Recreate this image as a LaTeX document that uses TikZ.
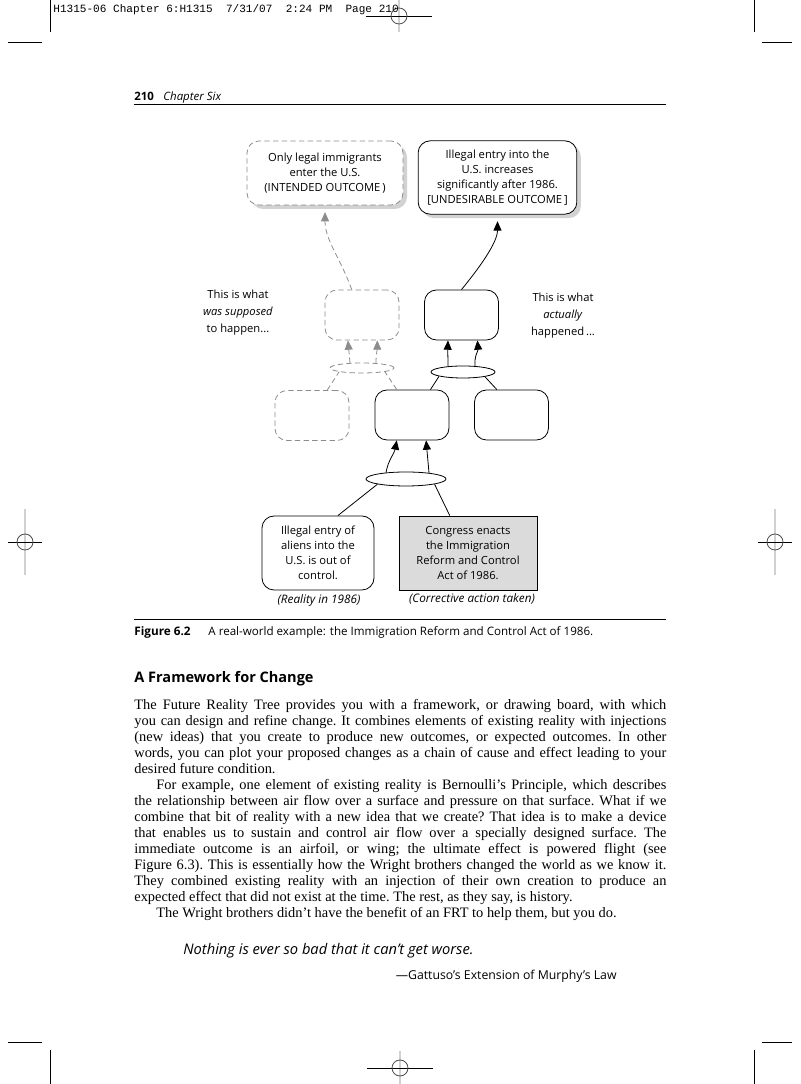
\documentclass[tikz,border=0pt]{standalone}
\usepackage{fontspec}
\setmainfont{Liberation Serif}
\setsansfont{Open Sans}
\setmonofont{Liberation Mono}
\usetikzlibrary{shapes.geometric,arrows.meta,shadows,calc}

\definecolor{ghostgray}{gray}{0.55}
\definecolor{actionfill}{gray}{0.86}
\definecolor{regtint}{gray}{0.82}
\newcommand{\figfont}{\sffamily\fontsize{8.4}{11.2}\selectfont}
\newcommand{\bodyfont}{\rmfamily\fontsize{10.8}{12}\selectfont\frenchspacing}

\tikzset{
  fact/.style={draw, fill=white, rounded corners=9pt, align=center, font=\figfont, inner sep=2pt},
  ghost/.style={fact, draw=ghostgray, dash pattern=on 4pt off 2.5pt},
  shade/.style={drop shadow={shadow xshift=3pt, shadow yshift=-3pt, fill=black!35}},
  small/.style={minimum width=55.5pt, minimum height=37.5pt},
  andring/.style={draw, ellipse, fill=white, inner sep=0pt},
  ghostlink/.style={draw=ghostgray, dash pattern=on 4pt off 2.5pt},
  cause/.style={-{Triangle[length=7pt,width=6pt]}},
  note/.style={align=center, font=\sffamily\fontsize{8.4}{12.7}\selectfont},
  tag/.style={anchor=base, inner sep=0pt, font=\sffamily\itshape\fontsize{8.8}{10}\selectfont},
}

\begin{document}
\begin{tikzpicture}[x=0.75pt, y=0.75pt, line width=0.6pt]
\useasboundingbox (0,0) rectangle (800,1084);

% crop marks
\draw (50,1084) -- (50,1052) (8,1042) -- (42,1042)
      (754,1084) -- (754,1052) (762,1042) -- (792,1042)
      (50,0) -- (50,34) (8,42) -- (42,42)
      (754,0) -- (754,34) (762,42) -- (792,42);
% registration marks
\foreach \cx/\cy/\hw/\vh in {399/1068/33/16, 400/16/33/17, 25/542/17/33, 775/542/17/33} {
  \draw[regtint, line width=1.2pt] (\cx,\cy-\vh) -- (\cx,\cy+\vh);
  \draw (\cx-\hw,\cy) -- (\cx+\hw,\cy);
  \draw[black!70] (\cx,\cy) circle [radius=6pt];
}

% slug and running head
\node[anchor=base west, inner sep=0pt, font=\ttfamily\fontsize{8.3}{10}\selectfont] (slug) at (53,1071)
  {H1315-06 Chapter 6:H1315\ \ 7/31/07\ \ 2:24 PM\ \ Page 210};
\node[anchor=base west, inner sep=0pt, font=\sffamily\bfseries\fontsize{8.6}{10}\selectfont] (folio) at (134,983) {210};
\node[anchor=base west, inner sep=0pt, font=\sffamily\itshape\fontsize{8.6}{10}\selectfont] (runhead) at (163,983) {Chapter Six};
\draw (134,980) -- (666,980);

% outcomes
\node[ghost, shade, minimum width=117pt, minimum height=48pt] (intended) at (325,911)
  {Only legal immigrants\\enter the U.S.\\(INTENDED OUTCOME\,)};
\node[fact, shade, minimum width=119pt, minimum height=55pt] (undesired) at (497.5,906.5)
  {Illegal entry into the\\U.S. increases\\significantly after 1986.\\{[UNDESIRABLE OUTCOME\,]}};

% middle levels
\node[ghost, small] (hopeA) at (362,769) {};
\node[fact, small] (realA) at (461.5,769) {};
\node[ghost, small] (hopeB) at (312,668.5) {};
\node[fact, small] (realB) at (412,669) {};
\node[fact, small] (realC) at (511.5,669) {};

\node[andring, ghostlink, minimum width=48pt, minimum height=7.5pt] (ghostand) at (362,716) {};
\node[andring, minimum width=48pt, minimum height=9pt] (topand) at (463,712) {};
\node[andring, minimum width=60pt, minimum height=10.5pt] (lowand) at (406,605) {};

% roots
\node[fact, minimum width=84pt, minimum height=55.5pt] (reality) at (318,531)
  {Illegal entry of\\aliens into the\\U.S. is out of\\control.};
\node[draw, fill=actionfill, align=center, font=\figfont, minimum width=103.5pt, minimum height=55.5pt] (action) at (468,531)
  {Congress enacts\\the Immigration\\Reform and Control\\Act of 1986.};
\node[tag] (realitytag) at (319,480) {(Reality in 1986)};
\node[tag] (actiontag) at (472,481) {(Corrective action taken)};

\node[note] (supposed) at (238,771) {This is what\\\textit{was supposed}\\to happen...};
\node[note] (actually) at (563,768) {This is what\\\textit{actually}\\happened\,...};

% what happened
\draw (reality.62) -- (lowand.south west);
\draw (action.116) -- (lowand.south east);
\draw[cause] ($(lowand.north)+(-20,-1)$) to[out=80, in=-100] (realB.239);
\draw[cause] ($(lowand.north)+(23,-1.3)$) to[out=95, in=-85] (realB.299);
\draw (realB.54) -- ($(topand.south)+(-24,2)$);
\draw (realC.120) -- ($(topand.south)+(22,1.6)$);
\draw[cause] ($(topand.north)+(-15,-0.7)$) to[out=90, in=-92] (realA.242);
\draw[cause] ($(topand.north)+(12,-0.5)$) to[out=95, in=-85] (realA.302);
\draw[cause, shorten >=5pt] (realA.north) .. controls +(18,22) and +(0,-28) .. (undesired.south);

% what was supposed to happen
\draw[ghostlink] (hopeB.59) -- (ghostand.south west);
\draw[ghostlink] (realB.121) -- (ghostand.south east);
\draw[ghostlink, cause] ($(ghostand.north)+(-12,-0.4)$) to[out=95, in=-85] (hopeA.241);
\draw[ghostlink, cause] ($(ghostand.north)+(14,-0.5)$) to[out=90, in=-90] (hopeA.301);
\draw[ghostlink, cause, shorten >=5pt] (hopeA.112) to[out=110, in=-90] (intended.south);

% caption
\draw (134,465) -- (666,465);
\node[anchor=base west, inner sep=0pt, font=\sffamily\bfseries\fontsize{8.8}{10}\selectfont] (figno) at (134,448) {Figure 6.2};
\node[anchor=base west, inner sep=0pt, font=\sffamily\fontsize{8.7}{10}\selectfont] (caption) at (208,448)
  {A real-world example: the Immigration Reform and Control Act of 1986.};

% text below
\node[anchor=base west, inner sep=0pt, font=\sffamily\bfseries\fontsize{10.9}{12}\selectfont] (heading) at (134,401) {A Framework for Change};
\node[anchor=north west, inner sep=0pt, text width=399pt, align=justify, font=\bodyfont] (body) at (134,386.2)
  {\strut The Future Reality Tree provides you with a framework, or drawing board, with which\linebreak
  you can design and refine change. It combines elements of existing reality with injections\linebreak
  (new ideas) that you create to produce new outcomes, or expected outcomes. In other\linebreak
  words, you can plot your proposed changes as a chain of cause and effect leading to your\linebreak
  desired future condition.\par
  \hspace*{16.5pt}For example, one element of existing reality is Bernoulli’s Principle, which describes\linebreak
  the relationship between air flow over a surface and pressure on that surface. What if we\linebreak
  combine that bit of reality with a new idea that we create? That idea is to make a device\linebreak
  that enables us to sustain and control air flow over a specially designed surface. The\linebreak
  immediate outcome is an airfoil, or wing; the ultimate effect is powered flight (see\linebreak
  Figure~6.3). This is essentially how the Wright brothers changed the world as we know it.\linebreak
  They combined existing reality with an injection of their own creation to produce an\linebreak
  expected effect that did not exist at the time. The rest, as they say, is history.\par
  \hspace*{16.5pt}The Wright brothers didn’t have the benefit of an FRT to help them, but you do.};
\node[anchor=base west, inner sep=0pt, font=\sffamily\itshape\fontsize{11}{12}\selectfont] (motto) at (183,129)
  {Nothing is ever so bad that it can’t get worse.};
\node[anchor=base east, inner sep=0pt, font=\sffamily\fontsize{9.2}{11}\selectfont] (source) at (617,104)
  {—Gattuso’s Extension of Murphy’s Law};
\end{tikzpicture}
\end{document}
